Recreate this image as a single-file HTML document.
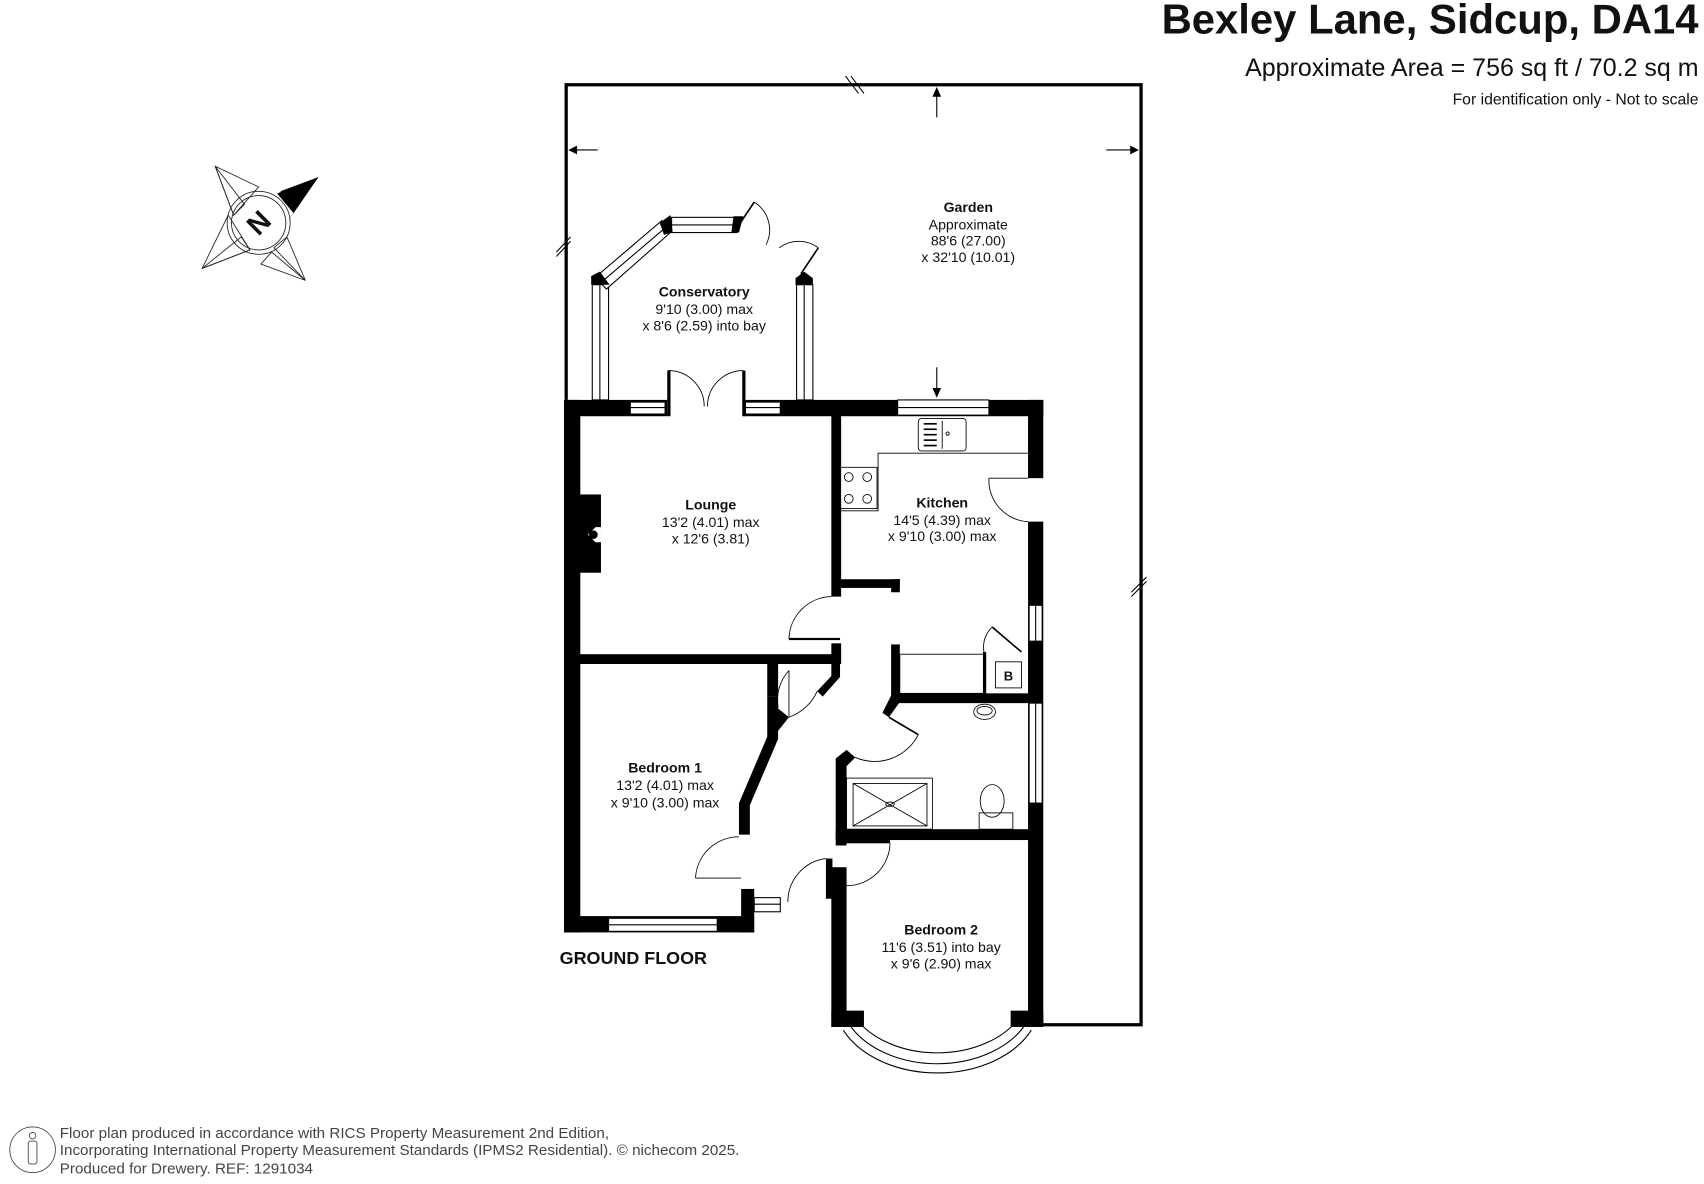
<!DOCTYPE html>
<html><head><meta charset="utf-8"><style>
html,body{margin:0;padding:0;background:#fff;}
svg{display:block;}
text{font-family:"Liberation Sans",Arial,sans-serif;fill:#111;}
</style></head><body>
<svg width="1704" height="1184" viewBox="0 0 1568 1089.5" xmlns="http://www.w3.org/2000/svg">
<!-- Header -->
<text x="1563" y="31" font-size="38.5" font-weight="bold" text-anchor="end">Bexley Lane, Sidcup, DA14</text>
<text x="1563" y="70" font-size="23" text-anchor="end">Approximate Area = 756 sq ft / 70.2 sq m</text>
<text x="1563" y="96" font-size="14.5" text-anchor="end">For identification only - Not to scale</text>

<!-- Compass -->
<g stroke="#222" stroke-width="0.8" fill="none">
<polygon points="198,153 225,188 215,198"/>
<polygon points="198,153 215,198 238,172"/>
<polygon points="186,247 222,218 230,230"/>
<polygon points="186,247 230,230 210,198"/>
<polygon points="281,258 252,228 264,218"/>
<polygon points="281,258 250,232 240,243"/>
<circle cx="238" cy="205" r="29"/>
<circle cx="238" cy="205" r="25"/>
</g>
<polygon points="293,163 255,178 270,196 262,208" fill="#000"/>
<polygon points="293,163 258,176 273,191" fill="#000"/>
<text x="238" y="214" font-size="26" font-weight="bold" text-anchor="middle" transform="rotate(-45 238 205)">N</text>

<!-- Garden outline -->
<g stroke="#000" stroke-width="3" fill="none">
<polyline points="521,368 521,78 1050,78 1050,943 958,943"/>
</g>
<g stroke="#000" stroke-width="1" fill="none">
<line x1="778" y1="70" x2="790" y2="86"/><line x1="783" y1="70" x2="795" y2="86"/>
<line x1="512" y1="232" x2="525" y2="218"/><line x1="512" y1="236" x2="525" y2="222"/>
<line x1="1041" y1="545" x2="1055" y2="531"/><line x1="1041" y1="549" x2="1055" y2="535"/>
<line x1="550" y1="138" x2="525" y2="138"/><line x1="1018" y1="138" x2="1046" y2="138"/>
<line x1="862" y1="108" x2="862" y2="82"/><line x1="862" y1="338" x2="862" y2="364"/>
</g>
<polygon points="523,138 531,134 531,142"/>
<polygon points="1048,138 1040,134 1040,142"/>
<polygon points="862,80 858,89 866,89"/>
<polygon points="862,366 858,357 866,357"/>

<text x="891" y="195" font-size="13" font-weight="bold" text-anchor="middle">Garden</text>
<text x="891" y="211" font-size="13" text-anchor="middle">Approximate</text>
<text x="891" y="226" font-size="13" text-anchor="middle">88'6 (27.00)</text>
<text x="891" y="241" font-size="13" text-anchor="middle">x  32'10 (10.01)</text>

<!-- Conservatory -->
<g stroke="#000" stroke-width="1" fill="#fff">
<rect x="545" y="262" width="15" height="106"/>
<line x1="552" y1="262" x2="552" y2="368"/>
<rect x="733" y="262" width="15" height="106"/>
<line x1="740" y1="262" x2="740" y2="368"/>
<polygon points="548,255 609,203 618,213 558,266"/>
<line x1="553" y1="260" x2="614" y2="208"/>
<rect x="618" y="200" width="60" height="14"/>
<line x1="618" y1="207" x2="678" y2="207"/>
</g>
<polygon points="544,262 544,254 552,250 561,262"/>
<polygon points="607,205 617,198 619,214 611,216"/>
<polygon points="675,199 684,199 680,214 673,214"/>
<polygon points="732,262 732,256 740,250 748,256 748,262"/>
<g stroke="#000" stroke-width="1.5" fill="none">
<line x1="678" y1="210" x2="694" y2="186"/>
<line x1="737" y1="252" x2="753" y2="228"/>
</g>
<g stroke="#000" stroke-width="0.8" fill="none">
<path d="M694,186 A30 30 0 0 1 705,225"/>
<path d="M753,228 A30 30 0 0 0 717,228"/>
<path d="M615,341 A33 33 0 0 1 648,374"/>
<path d="M684,341 A33 33 0 0 0 651,374"/>
</g>
<text x="648" y="273" font-size="13" font-weight="bold" text-anchor="middle">Conservatory</text>
<text x="648" y="289" font-size="13" text-anchor="middle">9'10 (3.00) max</text>
<text x="648" y="304" font-size="13" text-anchor="middle">x 8'6 (2.59) into bay</text>

<!-- Walls -->
<g fill="#000">
<rect x="519" y="368" width="95" height="15"/>
<rect x="614" y="341" width="3" height="42"/>
<rect x="683" y="341" width="3" height="42"/>
<rect x="684" y="368" width="276" height="15"/>
<rect x="519" y="368" width="15" height="490"/>
<rect x="533" y="455" width="20" height="72"/>
<rect x="533" y="602" width="240" height="9"/>
<rect x="765" y="382" width="9" height="167"/>
<rect x="765" y="592" width="9" height="19"/>
<rect x="726" y="587" width="47" height="2"/>
<rect x="946" y="368" width="14" height="72"/>
<rect x="946" y="480" width="14" height="463"/>
<rect x="773" y="533" width="55" height="8"/>
<rect x="820" y="533" width="8" height="12"/>
<rect x="820" y="593" width="8" height="52"/>
<rect x="820" y="638" width="130" height="9"/>
<polygon points="820,640 828,646 818,660 812,656"/>
<polygon points="769,698 779,690 787,697 779,705"/>
<rect x="769" y="698" width="10" height="80"/>
<rect x="769" y="763" width="180" height="10"/>
<rect x="706" y="611" width="10" height="30"/>
<polygon points="706,641 716,641 716,680 690,741 690,768 680,768 680,739 706,678"/>
<polygon points="716,652 726,660 714,675 709,670"/>
<polygon points="765,611 773,611 773,623 757,641 752,636 765,622"/>
<rect x="519" y="843" width="175" height="15"/>
<rect x="682" y="818" width="12" height="40"/>
<rect x="765" y="798" width="14" height="147"/>
<rect x="760" y="790" width="6" height="37"/>
<rect x="779" y="773" width="40" height="3"/>
<rect x="765" y="930" width="30" height="15"/>
<rect x="930" y="930" width="30" height="15"/>
</g>

<!-- windows -->
<g fill="#fff" stroke="#000" stroke-width="1">
<rect x="580" y="370" width="32" height="11"/>
<line x1="580" y1="375" x2="612" y2="375"/>
<rect x="686" y="370" width="32" height="11"/>
<line x1="686" y1="375" x2="718" y2="375"/>
<rect x="826" y="368" width="84" height="14"/>
<line x1="826" y1="375" x2="910" y2="375"/>
<rect x="560" y="845" width="100" height="12"/>
<line x1="560" y1="851" x2="660" y2="851"/>
<rect x="947" y="557" width="12" height="33"/>
<line x1="953" y1="557" x2="953" y2="590"/>
<rect x="947" y="647" width="12" height="92"/>
<line x1="953" y1="647" x2="953" y2="739"/>
<rect x="694" y="826" width="24" height="13"/>
<line x1="694" y1="832" x2="718" y2="832"/>
</g>

<!-- Bay window -->
<g stroke="#000" fill="none" stroke-width="1">
<path d="M786,935 A85 60 0 0 0 939,935"/>
<path d="M781,942 A90 64 0 0 0 944,942"/>
<path d="M776,948 A95 67 0 0 0 949,948"/>
</g>

<!-- doors -->
<g stroke="#000" stroke-width="0.8" fill="none">
<path d="M765,549 A40 40 0 0 0 726,588"/>
<path d="M910,440 A38 38 0 0 0 946,480"/>
<line x1="910" y1="440" x2="946" y2="440"/>
<path d="M726,617 A40 40 0 0 0 716,651"/><line x1="726" y1="617" x2="726" y2="660"/><path d="M752,636 A45 45 0 0 1 726,660"/>
<path d="M787,697 A45 45 0 0 0 845,676"/><line x1="818" y1="660" x2="845" y2="676" stroke-width="1.5"/>
<path d="M680,770 A40 40 0 0 0 640,808"/><line x1="640" y1="808" x2="682" y2="808"/>
<path d="M760,790 A40 40 0 0 0 725,830"/>
<path d="M819,776 A40 40 0 0 1 779,815"/>
<path d="M913,577 A25 25 0 0 0 907,605"/><line x1="913" y1="577" x2="940" y2="600" stroke-width="1.5"/>
</g>

<!-- fittings -->
<g stroke="#000" stroke-width="0.8" fill="none">
<polyline points="773,470 808,470 808,417 946,417"/>
<rect x="845" y="385" width="44" height="30" rx="3"/>
<line x1="867" y1="387" x2="867" y2="413"/>
<g stroke-width="1.5"><line x1="850" y1="390" x2="862" y2="390"/><line x1="850" y1="395" x2="862" y2="395"/><line x1="850" y1="400" x2="862" y2="400"/><line x1="850" y1="405" x2="862" y2="405"/><line x1="850" y1="410" x2="862" y2="410"/></g>
<circle cx="872" cy="399" r="1.5"/>
<rect x="773" y="430" width="34" height="38"/>
<circle cx="781" cy="439" r="4"/><circle cx="798" cy="439" r="4"/>
<circle cx="781" cy="459" r="4"/><circle cx="798" cy="459" r="4"/>
<rect x="828" y="602" width="78" height="36"/>
<line x1="906" y1="600" x2="906" y2="638" stroke-width="3"/>
<rect x="916" y="609" width="24" height="24"/>
<ellipse cx="906" cy="655" rx="10" ry="7"/><ellipse cx="906" cy="654" rx="7" ry="4"/>
<rect x="779" y="716" width="79" height="47"/>
<rect x="785" y="721" width="68" height="39"/>
<line x1="785" y1="721" x2="853" y2="760"/><line x1="853" y1="721" x2="785" y2="760"/>
<ellipse cx="819" cy="740" rx="4" ry="2"/>
<ellipse cx="913" cy="737" rx="11" ry="15"/>
<rect x="901" y="748" width="31" height="15"/>
</g>
<text x="928" y="626" font-size="12" font-weight="bold" text-anchor="middle">B</text>
<polygon points="541,492 548,485 553,485 553,499 548,499" fill="#fff"/>
<circle cx="546" cy="492" r="4"/>

<!-- labels -->
<text x="654" y="469" font-size="13" font-weight="bold" text-anchor="middle">Lounge</text>
<text x="654" y="485" font-size="13" text-anchor="middle">13'2 (4.01) max</text>
<text x="654" y="500" font-size="13" text-anchor="middle">x 12'6 (3.81)</text>
<text x="867" y="467" font-size="13" font-weight="bold" text-anchor="middle">Kitchen</text>
<text x="867" y="483" font-size="13" text-anchor="middle">14'5 (4.39) max</text>
<text x="867" y="498" font-size="13" text-anchor="middle">x 9'10 (3.00) max</text>
<text x="612" y="711" font-size="13" font-weight="bold" text-anchor="middle">Bedroom 1</text>
<text x="612" y="727" font-size="13" text-anchor="middle">13'2 (4.01) max</text>
<text x="612" y="743" font-size="13" text-anchor="middle">x 9'10 (3.00) max</text>
<text x="866" y="860" font-size="13" font-weight="bold" text-anchor="middle">Bedroom 2</text>
<text x="866" y="876" font-size="13" text-anchor="middle">11'6 (3.51) into bay</text>
<text x="866" y="891" font-size="13" text-anchor="middle">x 9'6 (2.90) max</text>
<text x="515" y="887" font-size="16.5" font-weight="bold">GROUND FLOOR</text>

<!-- footer -->
<g stroke="#444" stroke-width="0.8" fill="none">
<circle cx="30" cy="1058" r="21"/>
<circle cx="30" cy="1045" r="3"/>
<rect x="26" y="1050" width="8" height="21" rx="2"/>
</g>
<g font-size="14">
<text x="55" y="1047" style="fill:#444">Floor plan produced in accordance with RICS Property Measurement 2nd Edition,</text>
<text x="55" y="1063" style="fill:#444">Incorporating International Property Measurement Standards (IPMS2 Residential).   © nichecom 2025.</text>
<text x="55" y="1080" style="fill:#444">Produced for Drewery.   REF:  1291034</text>
</g>
</svg>
</body></html>
